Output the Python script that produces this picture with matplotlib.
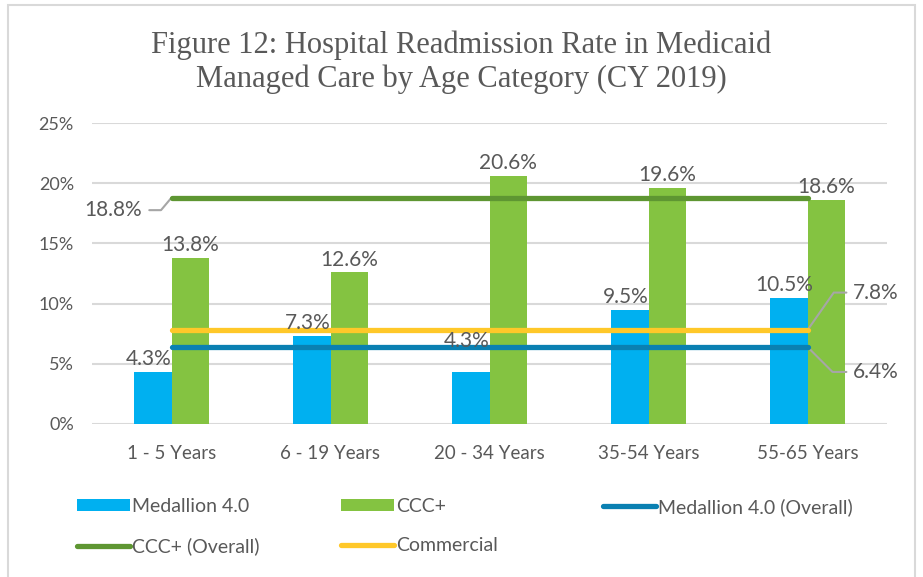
import matplotlib
matplotlib.use("Agg")
import matplotlib.pyplot as plt
from matplotlib.lines import Line2D
from matplotlib.patches import Patch, Rectangle

# ---------------- data ----------------
categories = ["1 - 5 Years", "6 - 19 Years", "20 - 34 Years", "35-54 Years", "55-65 Years"]
medallion = [4.3, 7.3, 4.3, 9.5, 10.5]
ccc_plus = [13.8, 12.6, 20.6, 19.6, 18.6]
medallion_overall = 6.4
ccc_overall = 18.8
commercial = 7.8
y_ticks = [0, 5, 10, 15, 20, 25]

# ---------------- style ----------------
C_MED = "#00B0F0"
C_CCC = "#84C341"
C_MED_O = "#0A80B2"
C_CCC_O = "#5E9632"
C_COM = "#FFC829"
C_TXT = "#595959"
C_GRID = "#D9D9D9"
SANS = ["Lato", "DejaVu Sans"]
SERIF = ["Liberation Serif", "DejaVu Serif"]
LBL = 15

W, H = 923, 577
fig = plt.figure(figsize=(W / 100, H / 100), dpi=100)
fig.patch.set_facecolor("white")

# outer chart frame
fig.patches.append(Rectangle((8 / W, -0.02), (915 - 8) / W, 1 - 5 / H + 0.02,
                             transform=fig.transFigure, fill=False,
                             edgecolor=C_GRID, lw=1.5, zorder=0))

ax = fig.add_axes([92 / W, 1 - 424 / H, (887 - 92) / W, (424 - 123) / H])
x = list(range(len(categories)))
bw = 0.236

ax.bar([i - bw / 2 for i in x], medallion, width=bw, color=C_MED, zorder=2)
ax.bar([i + bw / 2 for i in x], ccc_plus, width=bw, color=C_CCC, zorder=2)

lw = 3.8
ax.plot([x[0], x[-1]], [ccc_overall] * 2, color=C_CCC_O, lw=lw, solid_capstyle="round", zorder=4)
ax.plot([x[0], x[-1]], [commercial] * 2, color=C_COM, lw=lw, solid_capstyle="round", zorder=4)
ax.plot([x[0], x[-1]], [medallion_overall] * 2, color=C_MED_O, lw=lw, solid_capstyle="round", zorder=4)

ax.set_xlim(-0.5, len(categories) - 0.5)
ax.set_ylim(y_ticks[0], y_ticks[-1])
ax.set_yticks(y_ticks)
ax.set_yticklabels([f"{t}%" for t in y_ticks])
ax.set_xticks(x)
ax.set_xticklabels(categories)
ax.yaxis.grid(True, color=C_GRID, lw=1.5, zorder=0)
ax.set_axisbelow(True)
for s in ax.spines.values():
    s.set_visible(False)
ax.tick_params(axis="both", length=0, labelsize=13, colors=C_TXT)
ax.tick_params(axis="y", pad=13)
ax.tick_params(axis="x", pad=15, labelsize=13.5)
for lab in ax.get_xticklabels() + ax.get_yticklabels():
    lab.set_family(SANS)

# bar data labels
med_nudge = {2: 13}
for i, v in enumerate(medallion):
    ax.annotate(f"{v:.1f}%", (i - bw / 2, v), xytext=(-3, 2 + med_nudge.get(i, 0)),
                textcoords="offset points", ha="center", va="bottom",
                fontsize=LBL, color=C_TXT, family=SANS, zorder=5)
for i, v in enumerate(ccc_plus):
    ax.annotate(f"{v:.1f}%", (i + bw / 2, v), xytext=(0, 2),
                textcoords="offset points", ha="center", va="bottom",
                fontsize=LBL, color=C_TXT, family=SANS, zorder=5)

# overall-line labels with leader lines
LC = "#A6A6A6"
ax.annotate(f"{ccc_overall:.1f}%", (x[0], ccc_overall), xytext=(-21, -9),
            textcoords="offset points", ha="right", va="center",
            fontsize=LBL, color=C_TXT, family=SANS,
            arrowprops=dict(arrowstyle="-", color=LC, lw=1.5, shrinkA=3, shrinkB=0,
                            connectionstyle="angle,angleA=0,angleB=50,rad=0"))
ax.annotate(f"{commercial:.1f}%", (x[-1], commercial), xytext=(33, 27),
            textcoords="offset points", ha="left", va="center",
            fontsize=LBL, color=C_TXT, family=SANS,
            arrowprops=dict(arrowstyle="-", color=LC, lw=1.5, shrinkA=3, shrinkB=0,
                            connectionstyle="angle,angleA=180,angleB=55,rad=0"))
ax.annotate(f"{medallion_overall:.1f}%", (x[-1], medallion_overall), xytext=(33, -18),
            textcoords="offset points", ha="left", va="center",
            fontsize=LBL, color=C_TXT, family=SANS,
            arrowprops=dict(arrowstyle="-", color=LC, lw=1.5, shrinkA=3, shrinkB=0,
                            connectionstyle="angle,angleA=180,angleB=-45,rad=0"))

# title
fig.text(0.5, 1 - 62 / H, "Figure 12: Hospital Readmission Rate in Medicaid\nManaged Care by Age Category (CY 2019)",
         ha="center", va="center", fontsize=22, color=C_TXT, family=SERIF, linespacing=1.22)

# legend (three columns placed explicitly)
h_med = Patch(facecolor=C_MED, edgecolor="none")
h_ccc = Patch(facecolor=C_CCC, edgecolor="none")
h_medo = Line2D([], [], color=C_MED_O, lw=lw, solid_capstyle="round")
h_ccco = Line2D([], [], color=C_CCC_O, lw=lw, solid_capstyle="round")
h_com = Line2D([], [], color=C_COM, lw=lw, solid_capstyle="round")
cols = [([h_med, h_ccco], ["Medallion 4.0", "CCC+ (Overall)"], 77),
        ([h_ccc, h_com], ["CCC+", "Commercial"], 341),
        ([h_medo], ["Medallion 4.0 (Overall)"], 603)]
for hs, ls, px in cols:
    leg = fig.legend(hs, ls, loc="upper left", bbox_to_anchor=(px / W, 1 - 498 / H),
                     frameon=False, borderpad=0, borderaxespad=0, handlelength=2.7,
                     handleheight=0.6, handletextpad=0.12, labelspacing=1.15,
                     prop={"family": SANS, "size": 14})
    for t in leg.get_texts():
        t.set_color(C_TXT)

fig.savefig("out.png", dpi=100, facecolor="white")
